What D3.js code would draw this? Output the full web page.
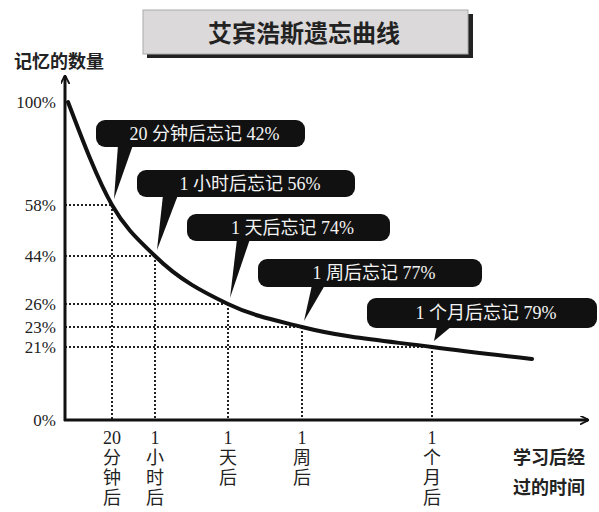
<!DOCTYPE html>
<html>
<head>
<meta charset="utf-8">
<script src="https://cdn.jsdelivr.net/npm/d3@7"></script>
<style>
    body { margin: 0; background: #fff; }
    svg { display: block; }
    .serif { font-family: 'Liberation Serif', 'DejaVu Serif', 'Noto Sans CJK SC', serif; }
    .cjk { font-family: 'Noto Sans CJK SC', sans-serif; }
</style>
</head>
<body>
<div id="chart"></div>
<script>
// data
const title = '艾宾浩斯遗忘曲线';
const yLabel = '记忆的数量';
const xLabel = ['学习后经', '过的时间'];
const yTicks = [100, 58, 44, 26, 23, 21, 0];
// curve: start, 20 min, 1 hour, 1 day, 1 week, 1 month, end
const retained = [100, 58, 44, 26, 23, 21, 18];
const timeLabels = [
    ['20', '分', '钟', '后'],
    ['1', '小', '时', '后'],
    ['1', '天', '后'],
    ['1', '周', '后'],
    ['1', '个', '月', '后'],
];
const calloutText = ['20 分钟后忘记 42%', '1 小时后忘记 56%', '1 天后忘记 74%', '1 周后忘记 77%', '1 个月后忘记 79%'];

// layout of the callout boxes (left, top, right, bottom, pointer base left/right)
const boxes = [
    [96, 120, 305, 147, 118, 133],
    [137, 170, 355, 197, 163, 178],
    [187, 214, 390, 241, 237, 250],
    [258, 259, 482, 287, 312, 325],
    [367, 298, 597, 328, 437, 452],
];

const width = 599, height = 512;
const svg = d3.select('#chart').append('svg')
    .attr('width', width)
    .attr('height', height);

// the original axis is not linear, tick spacing is hand drawn
const y = d3.scaleLinear()
    .domain([0, 18, 21, 23, 26, 44, 58, 100])
    .range([420, 359, 347, 327, 304, 256, 205, 102]);
const x = d3.scaleLinear()
    .domain([0, 1, 2, 3, 4, 5, 6])
    .range([68, 112, 155, 228, 302, 432, 532]);
const axisX = 65, axisY = 420;

// title box
const tb = svg.append('g');
tb.append('rect').attr('x', 147).attr('y', 14).attr('width', 326).attr('height', 44).attr('fill', '#222');
tb.append('rect').attr('x', 143).attr('y', 10).attr('width', 325).attr('height', 44)
    .attr('fill', '#dcd9db').attr('stroke', '#aaa').attr('stroke-width', 1);
tb.append('text')
    .attr('class', 'cjk')
    .attr('x', 304).attr('y', 42)
    .attr('text-anchor', 'middle')
    .attr('font-size', 24)
    .attr('font-weight', 'bold')
    .attr('fill', '#222')
    .text(title);

// dotted guides
const guides = svg.append('g')
    .attr('stroke', '#222')
    .attr('stroke-width', 2)
    .attr('stroke-dasharray', '2,2');
retained.slice(1, 6).forEach((v, i) => {
    guides.append('line')
        .attr('x1', axisX).attr('x2', x(i + 1))
        .attr('y1', y(v)).attr('y2', y(v));
    guides.append('line')
        .attr('x1', x(i + 1)).attr('x2', x(i + 1))
        .attr('y1', y(v)).attr('y2', axisY);
});

// axes
svg.append('defs').append('marker')
    .attr('id', 'arrow')
    .attr('viewBox', '0 0 10 10')
    .attr('refX', 9).attr('refY', 5)
    .attr('markerWidth', 9).attr('markerHeight', 9)
    .attr('markerUnits', 'userSpaceOnUse')
    .attr('orient', 'auto')
    .append('path')
    .attr('d', 'M0,0 L10,5 L0,10')
    .attr('fill', 'none')
    .attr('stroke', '#111')
    .attr('stroke-width', 2);

svg.append('line')
    .attr('x1', axisX).attr('x2', axisX)
    .attr('y1', axisY + 1).attr('y2', 76)
    .attr('stroke', '#111').attr('stroke-width', 3)
    .attr('marker-end', 'url(#arrow)');
svg.append('line')
    .attr('x1', axisX - 1).attr('x2', 588)
    .attr('y1', axisY).attr('y2', axisY)
    .attr('stroke', '#111').attr('stroke-width', 3)
    .attr('marker-end', 'url(#arrow)');

// y tick labels
svg.append('g').selectAll('text')
    .data(yTicks)
    .enter()
    .append('text')
    .attr('class', 'serif')
    .attr('x', 56)
    .attr('y', (d) => y(d) + 6)
    .attr('text-anchor', 'end')
    .attr('font-size', 17)
    .attr('fill', '#222')
    .text((d) => `${d}%`);

svg.append('text')
    .attr('class', 'cjk')
    .attr('x', 14).attr('y', 68)
    .attr('font-size', 18)
    .attr('font-weight', 'bold')
    .attr('fill', '#222')
    .text(yLabel);

// x tick labels, one character per line
timeLabels.forEach((lines, i) => {
    svg.append('text')
        .attr('class', 'serif')
        .attr('x', x(i + 1))
        .attr('y', 444)
        .attr('text-anchor', 'middle')
        .attr('font-size', 18)
        .attr('fill', '#222')
        .selectAll('tspan')
        .data(lines)
        .enter()
        .append('tspan')
        .attr('x', x(i + 1))
        .attr('dy', (d, j) => (j === 0 ? 0 : 20))
        .text((d) => d);
});

svg.append('text')
    .attr('class', 'cjk')
    .attr('font-size', 18)
    .attr('font-weight', 'bold')
    .attr('fill', '#222')
    .selectAll('tspan')
    .data(xLabel)
    .enter()
    .append('tspan')
    .attr('x', 513)
    .attr('y', (d, i) => 464 + i * 30)
    .text((d) => d);

// forgetting curve
const line = d3.line()
    .x((d, i) => x(i))
    .y((d) => y(d))
    .curve(d3.curveMonotoneX);
svg.append('path')
    .datum(retained)
    .attr('d', line)
    .attr('fill', 'none')
    .attr('stroke', '#111')
    .attr('stroke-width', 4)
    .attr('stroke-linecap', 'round');

// callouts
calloutText.forEach((t, i) => {
    const [l, top, r, b, p0, p1] = boxes[i];
    const tipX = x(i + 1) + 2;
    const tipY = y(retained[i + 1]) - 6;
    const g = svg.append('g');
    g.append('path')
        .attr('d', `M${p0},${b - 2} L${tipX},${tipY} L${p1},${b - 2} Z`)
        .attr('fill', '#111');
    g.append('rect')
        .attr('x', l).attr('y', top)
        .attr('width', r - l).attr('height', b - top)
        .attr('rx', 9)
        .attr('fill', '#111');
    g.append('text')
        .attr('class', 'serif')
        .attr('x', (l + r) / 2 + 4)
        .attr('y', (top + b) / 2 + 6)
        .attr('text-anchor', 'middle')
        .attr('font-size', 18)
        .attr('fill', '#f4f4f4')
        .text(t);
});
</script>
</body>
</html>
